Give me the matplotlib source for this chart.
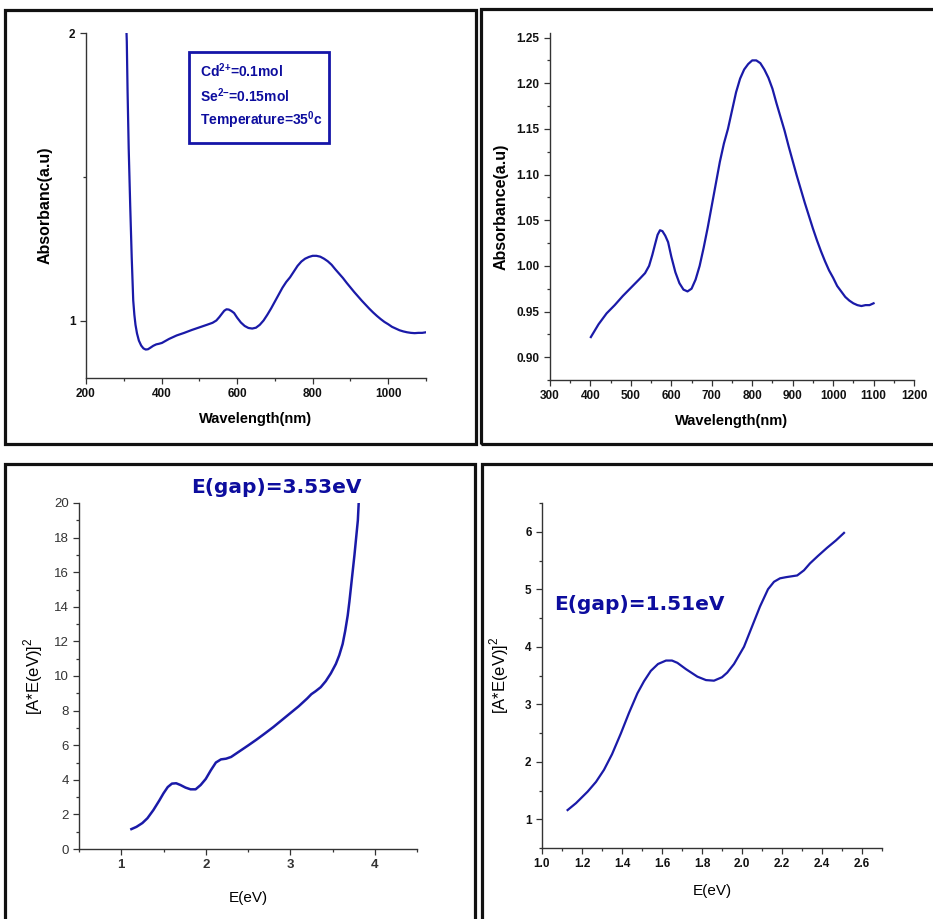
import matplotlib
matplotlib.use("Agg")
import matplotlib.pyplot as plt
from matplotlib.patches import Rectangle
from matplotlib.ticker import MultipleLocator

plt.rcParams['font.family'] = ['Liberation Sans', 'DejaVu Sans']
plt.rcParams['mathtext.fontset'] = 'custom'
plt.rcParams['mathtext.rm'] = 'Liberation Sans'
plt.rcParams['mathtext.bf'] = 'Liberation Sans:bold'

# absorbance spectrum, UV edge (only in the full view)
wl_uv = [306, 308, 310, 313, 317, 321, 325, 328, 331, 335, 340, 346, 352, 358,
         364, 370, 378, 386, 393]
abs_uv = [2.05, 1.97, 1.80, 1.60, 1.40, 1.22, 1.07, 1.02, 0.985, 0.955, 0.93,
          0.913, 0.903, 0.899, 0.900, 0.905, 0.912, 0.917, 0.919]

# absorbance spectrum 400-1100 nm
wl = [401, 420, 440, 460, 480, 500, 520, 535, 545, 553, 560, 566, 572, 578,
      585, 592, 600, 610, 620, 630, 640, 650, 660, 670, 680, 690, 700, 710,
      720, 730, 740, 750, 760, 770, 780, 790, 800, 810, 820, 830, 840, 850,
      860, 870, 880, 890, 900, 910, 920, 930, 940, 950, 960, 970, 980, 990,
      1000, 1010, 1020, 1030, 1040, 1050, 1060, 1070, 1080, 1090, 1100]
absb = [0.922, 0.936, 0.948, 0.957, 0.967, 0.976, 0.985, 0.992, 1.000, 1.012,
        1.024, 1.034, 1.039, 1.038, 1.033, 1.026, 1.010, 0.993, 0.981, 0.974,
        0.972, 0.975, 0.985, 1.000, 1.020, 1.042, 1.066, 1.090, 1.114, 1.134,
        1.150, 1.170, 1.190, 1.205, 1.215, 1.221, 1.225, 1.225, 1.222, 1.215,
        1.206, 1.194, 1.178, 1.163, 1.148, 1.131, 1.115, 1.099, 1.084, 1.069,
        1.055, 1.041, 1.028, 1.016, 1.005, 0.995, 0.987, 0.978, 0.972, 0.966,
        0.962, 0.959, 0.957, 0.956, 0.957, 0.957, 0.959]

# Tauc plot, wide range
e3 = [1.12, 1.18, 1.25, 1.31, 1.38, 1.45, 1.50, 1.55, 1.60, 1.65, 1.70, 1.76,
      1.82, 1.88, 1.94, 2.00, 2.06, 2.12, 2.18, 2.24, 2.30, 2.40, 2.50, 2.60,
      2.70, 2.80, 2.90, 3.00, 3.10, 3.20, 3.25, 3.30, 3.36, 3.42, 3.48, 3.54,
      3.58, 3.62, 3.65, 3.68, 3.70, 3.72, 3.74, 3.76, 3.78, 3.80, 3.81, 3.82]
t3 = [1.15, 1.28, 1.50, 1.78, 2.25, 2.80, 3.22, 3.58, 3.78, 3.80, 3.70, 3.55,
      3.45, 3.45, 3.70, 4.05, 4.55, 5.00, 5.18, 5.22, 5.32, 5.65, 5.98, 6.32,
      6.68, 7.05, 7.45, 7.85, 8.25, 8.70, 8.95, 9.12, 9.35, 9.70, 10.15, 10.70,
      11.20, 11.85, 12.60, 13.50, 14.30, 15.20, 16.10, 17.00, 18.00, 19.00,
      20.00, 20.6]

# Tauc plot, low energy part
e4 = [1.128, 1.17, 1.228, 1.27, 1.31, 1.35, 1.394, 1.435, 1.477, 1.51, 1.544,
      1.58, 1.62, 1.65, 1.677, 1.72, 1.777, 1.82, 1.86, 1.90, 1.926, 1.96,
      2.01, 2.05, 2.09, 2.13, 2.16, 2.19, 2.22, 2.276, 2.31, 2.34, 2.38, 2.425,
      2.47, 2.51]
t4 = [1.16, 1.28, 1.48, 1.65, 1.86, 2.13, 2.49, 2.85, 3.19, 3.40, 3.58, 3.70,
      3.76, 3.76, 3.72, 3.61, 3.48, 3.42, 3.41, 3.47, 3.55, 3.70, 4.00, 4.35,
      4.70, 5.00, 5.13, 5.19, 5.21, 5.24, 5.33, 5.45, 5.58, 5.72, 5.85, 5.98]

W, H = 933, 919
LINE = '#1a1aa8'
TXT = '#0d0d9e'

fig = plt.figure(figsize=(W / 100, H / 100), dpi=100)


def px_axes(l, t, r, b):
    return fig.add_axes([l / W, 1 - b / H, (r - l) / W, (b - t) / H])


def frame(l, t, r, b):
    fig.add_artist(Rectangle((l / W, 1 - b / H), (r - l) / W, (b - t) / H,
                             transform=fig.transFigure, fill=False,
                             edgecolor='#111111', linewidth=2.3, clip_on=False))


def style(ax, bold=True, color='#111111'):
    for s in ['top', 'right']:
        ax.spines[s].set_visible(False)
    for s in ['left', 'bottom']:
        ax.spines[s].set_color('#333333')
        ax.spines[s].set_linewidth(1.0)
    ax.tick_params(which='both', direction='out', color='#333333', width=0.9)
    ax.tick_params(which='major', length=4.5, pad=3)
    ax.tick_params(which='minor', length=2.5)
    for lab in ax.get_xticklabels() + ax.get_yticklabels():
        lab.set_fontweight('bold' if bold else 'normal')
        lab.set_color(color)


frame(5, 10, 476, 444)
frame(481, 9, 945, 444)
frame(5, 464, 475, 930)
frame(482, 464, 945, 930)

# panel 1
ax1 = px_axes(86, 33, 426, 378)
ax1.plot(wl_uv + wl, abs_uv + absb, color=LINE, lw=1.6)
ax1.set_xlim(200, 1100)
ax1.set_ylim(0.8, 2.0)
ax1.xaxis.set_major_locator(MultipleLocator(200))
ax1.xaxis.set_minor_locator(MultipleLocator(100))
ax1.set_yticks([1, 2])
ax1.set_yticks([1.5], minor=True)
ax1.tick_params(labelsize=8.5)
style(ax1)
ax1.set_xlabel('Wavelength(nm)', fontsize=10.5, fontweight='bold', labelpad=8)
ax1.set_ylabel('Absorbanc(a.u)', fontsize=11.5, fontweight='bold', labelpad=12)
box = Rectangle(((189 - 86) / 340, 1 - (143 - 33) / 345), (329 - 189) / 340,
                (143 - 52) / 345, transform=ax1.transAxes, fill=False,
                edgecolor='#1515a8', linewidth=2.0)
ax1.add_patch(box)
box_lines = [r'Cd$^{\mathbf{2{+}}}$=0.1mol', r'Se$^{\mathbf{2{-}}}$=0.15mol',
             r'Temperature=35$^{\mathbf{0}}$c']
for s, ypx in zip(box_lines, [71, 96, 120]):
    ax1.text((200 - 86) / 340, 1 - (ypx - 33) / 345, s, transform=ax1.transAxes,
             color=TXT, fontsize=10, fontweight='bold', va='center')

# panel 2
ax2 = px_axes(550, 33, 914, 380)
ax2.plot(wl, absb, color=LINE, lw=1.6)
ax2.set_xlim(300, 1200)
ax2.set_ylim(0.875, 1.255)
ax2.xaxis.set_major_locator(MultipleLocator(100))
ax2.xaxis.set_minor_locator(MultipleLocator(50))
ax2.set_yticks([0.90, 0.95, 1.00, 1.05, 1.10, 1.15, 1.20, 1.25])
ax2.yaxis.set_minor_locator(MultipleLocator(0.025))
ax2.set_yticklabels(['0.90', '0.95', '1.00', '1.05', '1.10', '1.15', '1.20', '1.25'])
ax2.tick_params(labelsize=8.5)
style(ax2)
ax2.set_xlabel('Wavelength(nm)', fontsize=10.5, fontweight='bold', labelpad=8)
ax2.set_ylabel('Absorbance(a.u)', fontsize=11.5, fontweight='bold', labelpad=6)

# panel 3
ax3 = px_axes(79, 503, 417, 849)
ax3.plot(e3, t3, color=LINE, lw=1.8)
ax3.set_xlim(0.5, 4.5)
ax3.set_ylim(0, 20)
ax3.xaxis.set_major_locator(MultipleLocator(1))
ax3.xaxis.set_minor_locator(MultipleLocator(0.5))
ax3.yaxis.set_major_locator(MultipleLocator(2))
ax3.yaxis.set_minor_locator(MultipleLocator(1))
ax3.tick_params(labelsize=9.5)
style(ax3, bold=False, color='#333333')
for lab in ax3.get_xticklabels():
    lab.set_fontweight('bold')
ax3.set_xlabel('E(eV)', fontsize=11, labelpad=14)
ax3.set_ylabel(r'[A*E(eV)]$^{2}$', fontsize=12, labelpad=6)
ax3.text(0.585, 1.045, 'E(gap)=3.53eV', transform=ax3.transAxes, ha='center',
         va='center', color=TXT, fontsize=14.5, fontweight='bold',
         family='DejaVu Sans')

# panel 4
ax4 = px_axes(542, 503, 882, 848)
ax4.plot(e4, t4, color=LINE, lw=1.6)
ax4.set_xlim(1.0, 2.7)
ax4.set_ylim(0.5, 6.5)
ax4.set_xticks([1.0, 1.2, 1.4, 1.6, 1.8, 2.0, 2.2, 2.4, 2.6])
ax4.set_xticklabels(['1.0', '1.2', '1.4', '1.6', '1.8', '2.0', '2.2', '2.4', '2.6'])
ax4.xaxis.set_minor_locator(MultipleLocator(0.1))
ax4.yaxis.set_major_locator(MultipleLocator(1))
ax4.yaxis.set_minor_locator(MultipleLocator(0.5))
ax4.tick_params(labelsize=8.5)
style(ax4)
ax4.set_xlabel('E(eV)', fontsize=11, labelpad=10)
ax4.set_ylabel(r'[A*E(eV)]$^{2}$', fontsize=12, labelpad=10)
ax4.text((554 - 542) / 340, 1 - (605 - 503) / 345, 'E(gap)=1.51eV',
         transform=ax4.transAxes, ha='left', va='center', color=TXT,
         fontsize=14.5, fontweight='bold', family='DejaVu Sans')

fig.savefig('out.png', dpi=100)
